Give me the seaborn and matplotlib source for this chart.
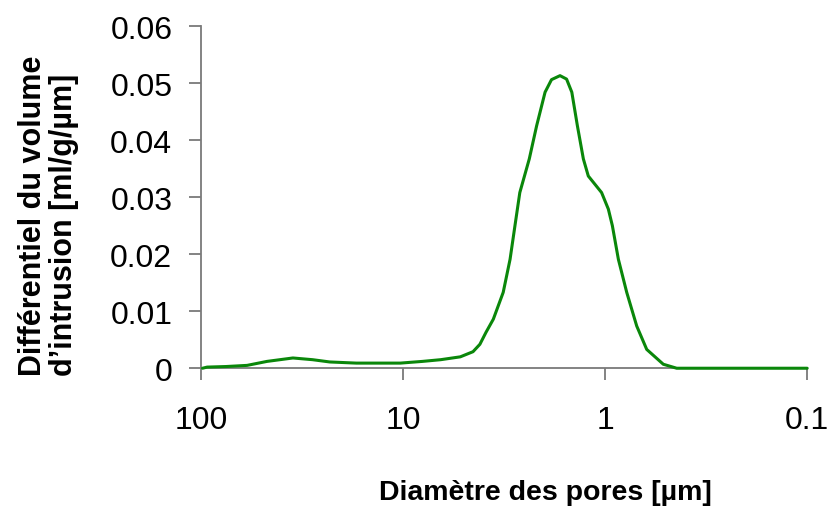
import matplotlib
matplotlib.use("Agg")
import matplotlib.pyplot as plt
import seaborn as sns
import pandas as pd

# pore diameter (µm) and differential intrusion volume (ml/g/µm)
diametre = [98, 93, 75, 59, 47, 35, 28, 23, 17, 13, 10.3, 8, 6.5, 5.2, 4.5,
            4.16, 3.88, 3.57, 3.19, 2.95, 2.79, 2.64, 2.37, 2.18, 1.98, 1.84,
            1.67, 1.55, 1.46, 1.37, 1.28, 1.21, 1.04, 0.963, 0.92, 0.859,
            0.781, 0.697, 0.622, 0.515, 0.442, 0.1]
volume = [0, 0.0002, 0.0003, 0.0005, 0.0012, 0.0018, 0.0015, 0.0011, 0.0009,
          0.0009, 0.0009, 0.0012, 0.0015, 0.0020, 0.0029,
          0.0042, 0.0063, 0.0086, 0.0133, 0.0191, 0.0250, 0.0308, 0.0367,
          0.0425, 0.0484, 0.0506, 0.0513, 0.0507, 0.0484, 0.0425, 0.0367,
          0.0337, 0.0308, 0.0279, 0.0250, 0.0191, 0.0133, 0.0074, 0.0033,
          0.0007, 0, 0]

x_ticks = [100, 10, 1, 0.1]
x_labels = ["100", "10", "1", "0.1"]
y_ticks = [0, 0.01, 0.02, 0.03, 0.04, 0.05, 0.06]
y_labels = ["0", "0.01", "0.02", "0.03", "0.04", "0.05", "0.06"]

df = pd.DataFrame({"diametre": diametre, "volume": volume})

sns.set_style("white")
plt.rcParams["font.family"] = ["Liberation Sans", "DejaVu Sans"]

fig = plt.figure(figsize=(8.33, 5.10), dpi=100)
ax = fig.add_axes([0.241, 0.276, 0.728, 0.671])

sns.lineplot(data=df, x="diametre", y="volume", sort=False, color="#0a870a",
             linewidth=2.2, ax=ax, zorder=3, clip_on=False)

ax.set_xscale("log")
ax.set_xlim(100, 0.1)
ax.set_ylim(0, 0.06)
ax.set_xticks(x_ticks)
ax.set_xticklabels(x_labels)
ax.xaxis.set_minor_locator(matplotlib.ticker.NullLocator())
ax.set_yticks(y_ticks)
ax.set_yticklabels(y_labels)

for side in ["top", "right"]:
    ax.spines[side].set_visible(False)
for side in ["left", "bottom"]:
    ax.spines[side].set_color("#7a7a7a")
    ax.spines[side].set_linewidth(1.3)

ax.tick_params(axis="both", which="major", bottom=True, left=True,
               length=8.5, width=1.3, color="#7a7a7a",
               labelsize=23, labelcolor="black")
ax.tick_params(axis="x", pad=18)
ax.tick_params(axis="y", pad=12)

ax.set_xlabel("Diamètre des pores [µm]", fontsize=20.5, fontweight="bold",
              color="black")
ax.xaxis.set_label_coords(0.569, -0.325)
ax.set_ylabel("")

fig.text(0.058, 0.576, "Différentiel du volume\nd\u2019intrusion [ml/g/µm]",
         rotation=90, ha="center", va="center", multialignment="left",
         fontsize=22, fontweight="bold", linespacing=1.05, color="black")

fig.savefig("out.png", dpi=100)
